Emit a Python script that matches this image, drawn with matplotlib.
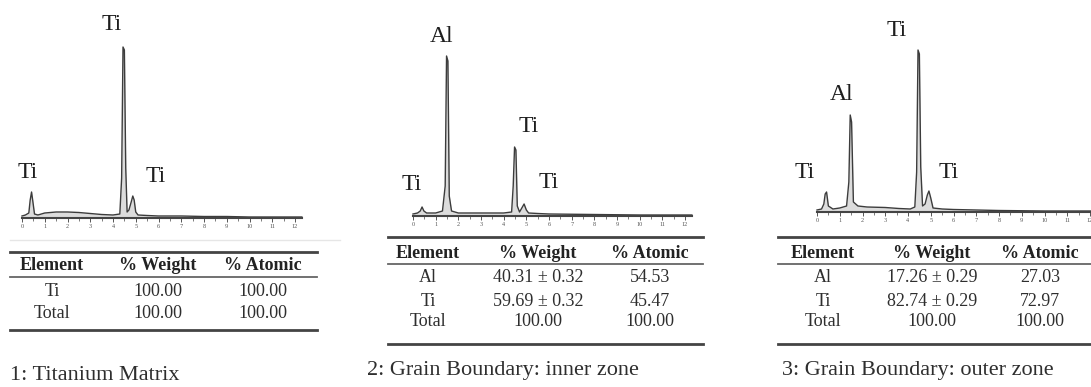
import numpy as np
import matplotlib
matplotlib.use("Agg")
import matplotlib.pyplot as plt

# EDS spectra (energy in keV, counts in arbitrary units)
energy1 = [0.0, 0.15, 0.3, 0.36, 0.42, 0.48, 0.55, 0.7, 1.0, 1.5, 2.0, 2.5, 3.0, 3.5, 4.0, 4.3, 4.38, 4.44,
           4.5, 4.56, 4.62, 4.7, 4.8, 4.87, 4.93, 5.0, 5.1, 5.5, 6.0, 7.0, 8.0, 9.0, 10.0, 11.0, 12.0, 12.3]
counts1 = [2, 3, 5, 18, 26, 16, 4, 3, 5, 6, 6, 5.5, 4.5, 3.5, 3, 4, 40, 171,
           168, 50, 6, 8, 16, 22, 18, 6, 3, 2.5, 2, 2, 1.5, 1.5, 1, 1, 1, 1]

energy2 = [0.0, 0.2, 0.32, 0.4, 0.48, 0.6, 1.0, 1.3, 1.42, 1.48, 1.54, 1.6, 1.7, 2.0, 3.0, 4.0,
           4.35, 4.42, 4.48, 4.54, 4.6, 4.7, 4.8, 4.9, 5.0, 5.1, 5.5, 6.0, 8.0, 10.0, 12.0, 12.3]
counts2 = [2, 3, 5, 9, 5, 3, 3, 5, 30, 160, 155, 20, 5, 3, 3, 3,
           4, 30, 69, 66, 10, 4, 8, 12, 6, 3, 2.5, 2, 1.5, 1, 1, 1]

energy3 = [0.0, 0.2, 0.3, 0.36, 0.42, 0.5, 0.7, 1.0, 1.3, 1.4, 1.46, 1.52, 1.6, 1.8, 2.2, 3.0, 3.6, 4.1,
           4.3, 4.38, 4.44, 4.5, 4.56, 4.64, 4.75, 4.85, 4.92, 5.0, 5.1, 5.5, 6.0, 7.0, 8.0, 10.0, 12.0, 12.5]
counts3 = [2, 3, 8, 18, 20, 6, 3, 4, 6, 30, 97, 90, 10, 6, 5, 4.5, 3.5, 3,
           5, 40, 162, 158, 45, 6, 8, 17, 21, 14, 4, 3, 2.5, 2, 1.5, 1, 1, 1]

# peak labels: (text, energy, counts)
labels1 = [("Ti", 0.26, 46), ("Ti", 3.96, 193), ("Ti", 5.88, 42)]
labels2 = [("Ti", -0.04, 31), ("Al", 1.24, 180), ("Ti", 5.11, 89), ("Ti", 5.99, 34)]
labels3 = [("Ti", -0.53, 40), ("Al", 1.1, 118), ("Ti", 3.52, 182), ("Ti", 5.8, 40)]

# composition tables
header = ["Element", "% Weight", "% Atomic"]
rows1 = [["Ti", "100.00", "100.00"],
         ["Total", "100.00", "100.00"]]
rows2 = [["Al", "40.31 \u00b1 0.32", "54.53"],
         ["Ti", "59.69 \u00b1 0.32", "45.47"],
         ["Total", "100.00", "100.00"]]
rows3 = [["Al", "17.26 \u00b1 0.29", "27.03"],
         ["Ti", "82.74 \u00b1 0.29", "72.97"],
         ["Total", "100.00", "100.00"]]
captions = ["1: Titanium Matrix", "2: Grain Boundary: inner zone", "3: Grain Boundary: outer zone"]

W, H = 1091, 387
plt.rcParams['font.family'] = ['Liberation Serif', 'DejaVu Serif']
fig = plt.figure(figsize=(W / 100, H / 100), dpi=100)

# overlay in pixel units for the tables and captions
ax_t = fig.add_axes([0, 0, 1, 1])
ax_t.set_xlim(0, W)
ax_t.set_ylim(H, 0)
ax_t.axis("off")


# spectrum axes: zero keV at x0 px, s px per keV, baseline at base px
def spectrum(x0, s, base, energy, counts, labels, xend):
    ax = fig.add_axes([(x0 - s) / W, (H - base) / H, 14 * s / W, base / H])
    ax.set_xlim(-1, 13)
    ax.set_ylim(0, base)
    ax.patch.set_alpha(0)
    ax.fill_between(energy, 0, counts, color="#dcdcdc", lw=0)
    ax.plot(energy, counts, color="#3c3c3c", lw=1.0)
    for sp in ["top", "right", "left"]:
        ax.spines[sp].set_visible(False)
    ax.spines["bottom"].set_bounds(0, xend)
    ax.spines["bottom"].set_color("#444444")
    ax.spines["bottom"].set_linewidth(1.5)
    ax.set_yticks([])
    ax.set_xticks(range(13))
    ax.set_xticks(np.arange(0, 12.5, 0.5), minor=True)
    ax.tick_params(axis="x", which="major", length=3, width=0.7, color="#555555",
                   labelsize=4.5, labelcolor="#555555", pad=1.5)
    ax.tick_params(axis="x", which="minor", length=2, width=0.6, color="#666666")
    for txt, e, c in labels:
        ax.text(e, c, txt, ha="center", va="center", fontsize=17, color="#1e1e1e")
    return ax


spectrum(22, 22.75, 218, energy1, counts1, labels1, 12.3)
spectrum(413, 22.67, 216, energy2, counts2, labels2, 12.3)
spectrum(817, 22.75, 212, energy3, counts3, labels3, 12.6)

# faint line under the first spectrum
ax_t.plot([10, 340], [240, 240], color="#e6e6e6", lw=1)


def table(rows, xl, xr, cols, top, yh, hline, ys, bottom, cap, cx, cy):
    ax_t.plot([xl, xr], [top, top], color="#444444", lw=2)
    ax_t.plot([xl, xr], [hline, hline], color="#666666", lw=1.3)
    ax_t.plot([xl, xr], [bottom, bottom], color="#444444", lw=2)
    for x, h in zip(cols, header):
        ax_t.text(x, yh, h, ha="center", va="center", fontsize=13, fontweight="bold", color="#222222")
    for y, row in zip(ys, rows):
        for x, v in zip(cols, row):
            ax_t.text(x, y, v, ha="center", va="center", fontsize=13, color="#2e2e2e")
    ax_t.text(cx, cy, cap, ha="left", va="center", fontsize=16, color="#2e2e2e")


table(rows1, 10, 317, [52, 158, 263], 252, 266, 277, [291, 313], 330, captions[0], 10, 376)
table(rows2, 388, 703, [428, 538, 650], 237, 253, 264, [278, 301, 322], 344, captions[1], 367, 370)
table(rows3, 778, 1100, [823, 932, 1040], 237, 253, 264, [278, 301, 322], 344, captions[2], 782, 370)

fig.savefig("out.png", dpi=100)
